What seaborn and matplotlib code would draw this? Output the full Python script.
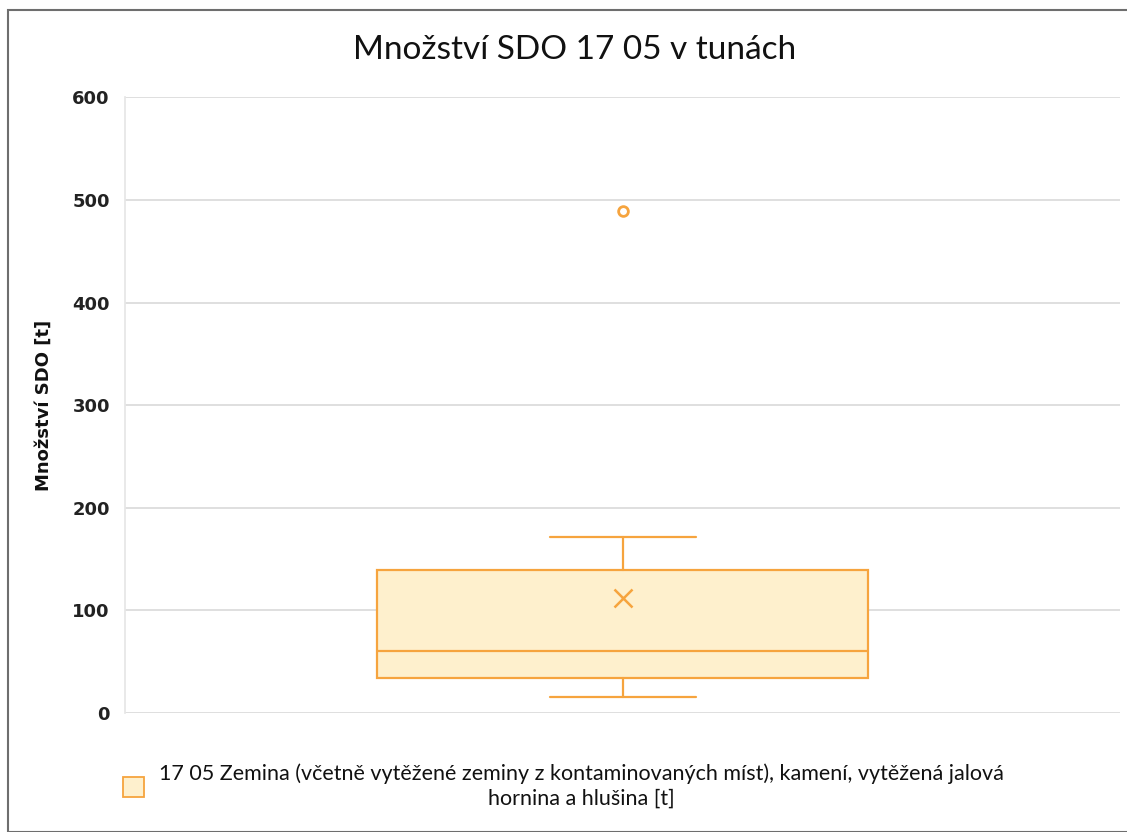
import matplotlib
matplotlib.use("Agg")
import matplotlib.pyplot as plt
import matplotlib.patches as mpatches
import seaborn as sns

# values (tonnes)
series_label = ("17 05 Zemina (včetně vytěžené zeminy z kontaminovaných míst), kamení, vytěžená jalová\n"
                "hornina a hlušina [t]")
whisker_low = 15.5
q1 = 34
median = 60
q3 = 139
whisker_high = 172
mean = 112
outliers = [489]
y_ticks = [0, 100, 200, 300, 400, 500, 600]

edge = "#F6A43E"
fill = "#FEF0CD"

sns.set_theme(style="white")
plt.rcParams["font.family"] = ["Lato", "DejaVu Sans"]

fig = plt.figure(figsize=(11.27, 8.32), dpi=100)
ax = fig.add_axes([0.111, 0.143, 0.883, 0.740])

stats = [{
    "whislo": whisker_low, "q1": q1, "med": median, "q3": q3,
    "whishi": whisker_high, "mean": mean, "fliers": outliers, "label": "",
}]
ax.bxp(
    stats, positions=[0], widths=0.494, patch_artist=True, showmeans=True,
    boxprops=dict(facecolor=fill, edgecolor=edge, linewidth=1.6),
    medianprops=dict(color=edge, linewidth=1.6),
    whiskerprops=dict(color=edge, linewidth=1.6),
    capprops=dict(color=edge, linewidth=1.6),
    capwidths=0.147,
    meanprops=dict(marker="x", markeredgecolor=edge, markersize=13, markeredgewidth=1.8),
    flierprops=dict(marker="o", markerfacecolor="none", markeredgecolor=edge,
                    markersize=7, markeredgewidth=2),
)

ax.set_xlim(-0.5, 0.5)
ax.set_ylim(0, 600)
ax.set_yticks(y_ticks)
ax.set_yticklabels([str(t) for t in y_ticks], fontsize=13, fontweight="bold",
                   color="#222222", family="DejaVu Sans")
ax.set_xticks([])
ax.yaxis.grid(True, color="#D9D9D9", linewidth=1.2)
ax.set_axisbelow(True)
for side in ["top", "right", "bottom"]:
    ax.spines[side].set_visible(False)
ax.spines["left"].set_color("#E6E6E6")
ax.tick_params(axis="y", length=0, pad=11)

ax.set_ylabel("Množství SDO [t]", family="DejaVu Sans", fontsize=13, fontweight="bold",
              color="#111111", labelpad=14)

fig.suptitle("Množství SDO 17 05 v tunách", x=0.51, y=0.958, fontsize=24, color="#111111")

# outer chart frame
fig.patches.append(mpatches.Rectangle((8 / 1127, 0), 2, (832 - 10) / 832, transform=fig.transFigure,
                                      fill=False, edgecolor="#6E6E6E", linewidth=1.5))

handle = mpatches.Patch(facecolor=fill, edgecolor=edge, linewidth=1.3)
leg = fig.legend([handle], [series_label], loc="center", bbox_to_anchor=(0.5, 0.055),
                 frameon=False, fontsize=15.5, handlelength=1.0, handleheight=1.1, handletextpad=0.7)
leg.get_texts()[0].set_multialignment("center")
leg.get_texts()[0].set_color("#111111")
leg.get_texts()[0].set_linespacing(1.3)

fig.savefig("out.png", dpi=100)
